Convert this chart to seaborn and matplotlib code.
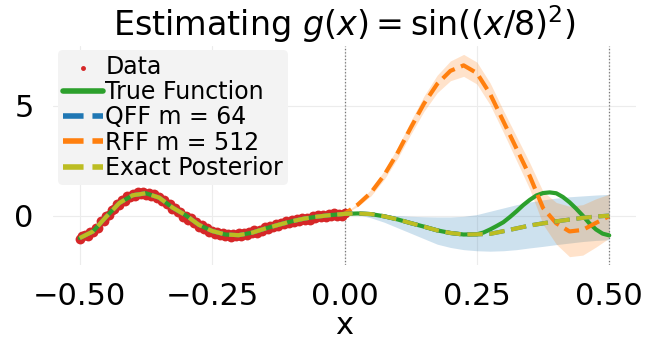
import numpy as np
import matplotlib
matplotlib.use("Agg")
import matplotlib.pyplot as plt
import seaborn as sns

# shared grid for the model curves
xs = [-0.5, -0.475, -0.45, -0.425, -0.4, -0.375, -0.35, -0.325, -0.3, -0.275,
      -0.25, -0.225, -0.2, -0.175, -0.15, -0.125, -0.1, -0.075, -0.05, -0.025,
      0.0, 0.025, 0.05, 0.075, 0.1, 0.125, 0.15, 0.175, 0.2, 0.225,
      0.25, 0.275, 0.3, 0.325, 0.35, 0.375, 0.4, 0.425, 0.45, 0.475, 0.5]

exact_mean = [-1.02, -0.72, -0.05, 0.58, 0.93, 1.02, 0.82, 0.37, 0.02, -0.42,
              -0.7, -0.86, -0.89, -0.78, -0.59, -0.42, -0.26, -0.13, -0.04, 0.03,
              0.08, 0.1, 0.07, -0.03, -0.17, -0.34, -0.5, -0.67, -0.79, -0.86,
              -0.85, -0.83, -0.71, -0.58, -0.45, -0.35, -0.26, -0.18, -0.1, -0.04, 0.0]

qff_mean = [-1.02, -0.72, -0.05, 0.58, 0.93, 1.02, 0.82, 0.37, 0.02, -0.42,
            -0.7, -0.86, -0.89, -0.78, -0.59, -0.42, -0.26, -0.13, -0.04, 0.03,
            0.08, 0.1, 0.07, -0.03, -0.17, -0.34, -0.5, -0.67, -0.79, -0.86,
            -0.85, -0.83, -0.71, -0.58, -0.45, -0.35, -0.26, -0.18, -0.1, -0.04, 0.0]

rff_mean = [-1.02, -0.72, -0.05, 0.58, 0.93, 1.02, 0.82, 0.37, 0.02, -0.42,
            -0.7, -0.86, -0.89, -0.78, -0.59, -0.42, -0.26, -0.13, -0.04, 0.03,
            0.08, 0.5, 1.05, 1.85, 2.85, 4.0, 5.1, 6.0, 6.6, 6.85,
            6.5, 5.55, 4.3, 3.05, 1.8, 0.35, -0.35, -0.72, -0.65, -0.33, -0.02]

# true function, finer on the right where it bends sharply
true_x = [-0.5, -0.475, -0.45, -0.425, -0.4, -0.375, -0.35, -0.325, -0.3, -0.275,
          -0.25, -0.225, -0.2, -0.175, -0.15, -0.125, -0.1, -0.075, -0.05, -0.025,
          0.0, 0.025, 0.05, 0.075, 0.1, 0.125, 0.15, 0.175, 0.2, 0.225,
          0.25, 0.2625, 0.275, 0.2875, 0.3, 0.3125, 0.325, 0.3375, 0.35, 0.3625,
          0.375, 0.3875, 0.4, 0.4125, 0.425, 0.4375, 0.45, 0.4625, 0.475, 0.4875, 0.5]
true_f = [-1.02, -0.72, -0.05, 0.58, 0.93, 1.02, 0.82, 0.37, 0.02, -0.42,
          -0.7, -0.86, -0.89, -0.78, -0.59, -0.42, -0.26, -0.13, -0.04, 0.03,
          0.08, 0.1, 0.07, -0.03, -0.17, -0.34, -0.5, -0.67, -0.79, -0.86,
          -0.85, -0.77, -0.63, -0.47, -0.3, -0.06, 0.2, 0.48, 0.72, 0.92,
          1.03, 1.06, 1.02, 0.85, 0.61, 0.32, 0.0, -0.35, -0.63, -0.82, -0.9]

# uncertainty bands (x >= 0; tight on the data side)
band_x = [0.0, 0.025, 0.05, 0.075, 0.1, 0.125, 0.15, 0.175, 0.2, 0.225,
          0.25, 0.275, 0.3, 0.325, 0.35, 0.375, 0.4, 0.425, 0.45, 0.475, 0.5]
qff_upper = [0.08, 0.12, 0.1, 0.05, 0.0, -0.03, -0.05, -0.06, -0.06, -0.03,
             0.05, 0.2, 0.35, 0.5, 0.62, 0.72, 0.8, 0.86, 0.9, 0.94, 0.97]
qff_lower = [0.08, 0.05, -0.1, -0.3, -0.55, -0.8, -1.05, -1.3, -1.45, -1.55,
             -1.6, -1.62, -1.6, -1.55, -1.47, -1.4, -1.32, -1.25, -1.18, -1.13, -1.1]
rff_half = [0.0, 0.08, 0.15, 0.2, 0.25, 0.3, 0.35, 0.4, 0.45, 0.5,
            0.5, 0.5, 0.5, 0.55, 0.6, 0.75, 0.95, 1.15, 1.15, 1.1, 1.0]

# noisy observations on [-0.5, 0]
data_x = [-0.5, -0.495, -0.49, -0.485, -0.48, -0.475, -0.47, -0.465, -0.46, -0.455,
          -0.45, -0.445, -0.44, -0.435, -0.43, -0.425, -0.42, -0.415, -0.41, -0.405,
          -0.4, -0.395, -0.39, -0.385, -0.38, -0.375, -0.37, -0.365, -0.36, -0.355,
          -0.35, -0.345, -0.34, -0.335, -0.33, -0.325, -0.32, -0.315, -0.31, -0.305,
          -0.3, -0.295, -0.29, -0.285, -0.28, -0.275, -0.27, -0.265, -0.26, -0.255,
          -0.25, -0.245, -0.24, -0.235, -0.23, -0.225, -0.22, -0.215, -0.21, -0.205,
          -0.2, -0.195, -0.19, -0.185, -0.18, -0.175, -0.17, -0.165, -0.16, -0.155,
          -0.15, -0.145, -0.14, -0.135, -0.13, -0.125, -0.12, -0.115, -0.11, -0.105,
          -0.1, -0.095, -0.09, -0.085, -0.08, -0.075, -0.07, -0.065, -0.06, -0.055,
          -0.05, -0.045, -0.04, -0.035, -0.03, -0.025, -0.02, -0.015, -0.01, -0.005, 0.0]
data_y = [-1.08, -0.92, -0.88, -0.93, -0.73, -0.74, -0.57, -0.55, -0.26, -0.24,
          -0.03, 0.02, 0.28, 0.32, 0.55, 0.5, 0.7, 0.67, 0.89, 0.84,
          0.98, 0.89, 1.07, 0.98, 1.08, 0.93, 1.02, 0.89, 0.98, 0.79,
          0.83, 0.66, 0.72, 0.52, 0.52, 0.3, 0.34, 0.16, 0.17, -0.04,
          -0.02, -0.2, -0.12, -0.32, -0.3, -0.5, -0.44, -0.59, -0.55, -0.73,
          -0.68, -0.84, -0.74, -0.88, -0.78, -0.91, -0.84, -0.97, -0.84, -0.93,
          -0.81, -0.93, -0.81, -0.9, -0.75, -0.81, -0.67, -0.77, -0.64, -0.71,
          -0.53, -0.61, -0.45, -0.52, -0.4, -0.49, -0.32, -0.39, -0.24, -0.35,
          -0.22, -0.31, -0.16, -0.23, -0.09, -0.2, -0.09, -0.18, -0.02, -0.12,
          0.02, -0.08, 0.03, -0.08, 0.07, -0.01, 0.1, -0.02, 0.09, -0.01, 0.12]

sns.set_style("whitegrid", {"grid.color": "#ececec"})
for key in ["text.color", "axes.labelcolor", "xtick.color", "ytick.color"]:
    plt.rcParams[key] = "black"

fig, ax = plt.subplots(figsize=(6.5, 3.51), dpi=100)
fig.subplots_adjust(left=0.082, right=0.978, top=0.87, bottom=0.245)

rff_up = np.array(rff_mean[20:]) + np.array(rff_half)
rff_lo = np.array(rff_mean[20:]) - np.array(rff_half)
ax.fill_between(band_x, qff_lower, qff_upper, color="tab:blue", alpha=0.22, lw=0)
ax.fill_between(band_x, rff_lo, rff_up, color="tab:orange", alpha=0.22, lw=0)

sns.scatterplot(x=data_x, y=data_y, ax=ax, color="tab:red", s=50, linewidth=0,
                label="Data", zorder=2)
sns.lineplot(x=true_x, y=true_f, ax=ax, color="tab:green", lw=3,
             label="True Function", zorder=3)
sns.lineplot(x=xs, y=qff_mean, ax=ax, color="tab:blue", lw=3, ls="--",
             label="QFF m = 64", zorder=4)
sns.lineplot(x=xs, y=rff_mean, ax=ax, color="tab:orange", lw=3, ls="--",
             label="RFF m = 512", zorder=3)
sns.lineplot(x=xs, y=exact_mean, ax=ax, color="tab:olive", lw=3, ls="--",
             label="Exact Posterior", zorder=5)

for xv in [0.0, 0.5]:
    ax.axvline(xv, color="#777777", ls=":", lw=0.9, zorder=1)

ax.set_xlim(-0.55, 0.55)
ax.set_ylim(-2.25, 7.75)
ax.set_xticks([-0.5, -0.25, 0.0, 0.25, 0.5])
ax.set_yticks([0, 5])
ax.tick_params(labelsize=22, length=0)
ax.tick_params(axis="x", pad=12)
ax.tick_params(axis="y", pad=14)
ax.set_xlabel("x", fontsize=22, labelpad=0)
ax.set_title(r"Estimating $g(x) = \sin((x/8)^2)$", fontsize=24, pad=7)
sns.despine(left=True, bottom=True)

leg = ax.legend(loc="upper left", fontsize=17, labelspacing=0.05,
                handlelength=1.7, handletextpad=0.1, borderaxespad=0.2,
                borderpad=0.2, markerscale=0.5, frameon=True,
                facecolor="#f3f3f3", edgecolor="none", framealpha=1)
for line in leg.get_lines():
    line.set_linewidth(4)

fig.savefig("out.png", dpi=100)
